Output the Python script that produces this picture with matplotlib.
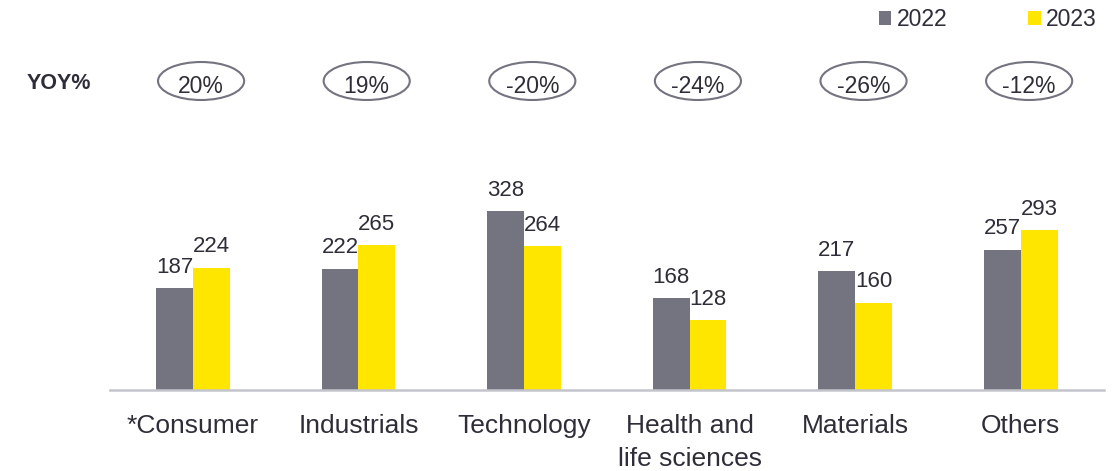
import matplotlib
matplotlib.use("Agg")
import matplotlib.pyplot as plt
from matplotlib.patches import Ellipse, Patch
from matplotlib.transforms import blended_transform_factory
import numpy as np

categories = ["*Consumer", "Industrials", "Technology", "Health and\nlife sciences", "Materials", "Others"]
values_2022 = [187, 222, 328, 168, 217, 257]
values_2023 = [224, 265, 264, 128, 160, 293]
yoy_labels = ["20%", "19%", "-20%", "-24%", "-26%", "-12%"]
series_names = ["2022", "2023"]

GRAY = "#747480"
YELLOW = "#FFE600"
TEXT = "#2E2E38"
AXIS = "#C4C4CD"

plt.rcParams['font.family'] = ['Liberation Sans', 'DejaVu Sans']

fig = plt.figure(figsize=(11.19, 4.71), dpi=100)
ax = fig.add_axes([0.0983, 0.172, 0.888, 0.5217])

x = np.arange(len(categories))
w = 0.222
ax.bar(x - w / 2, values_2022, w, color=GRAY, label=series_names[0], zorder=2)
ax.bar(x + w / 2, values_2023, w, color=YELLOW, label=series_names[1], zorder=2)

for xi, v in zip(x - w / 2, values_2022):
    ax.annotate(str(v), (xi, v), xytext=(0, 11), textcoords="offset points",
                ha="center", va="baseline", fontsize=16, color=TEXT)
for xi, v in zip(x + w / 2, values_2023):
    ax.annotate(str(v), (xi, v), xytext=(0, 11), textcoords="offset points",
                ha="center", va="baseline", fontsize=16, color=TEXT)

ax.set_xlim(-0.5, len(categories) - 0.5)
ax.set_ylim(0, 450)
ax.set_xticks(x)
ax.set_xticklabels(categories, fontsize=19, color=TEXT, linespacing=1.5)
ax.tick_params(axis="x", length=0, pad=17)
ax.set_yticks([])
for s in ["top", "right", "left"]:
    ax.spines[s].set_visible(False)
ax.spines["bottom"].set_color(AXIS)
ax.spines["bottom"].set_linewidth(1.8)

# YOY ovals
trans = blended_transform_factory(ax.transData, fig.transFigure)
oval_y = 1 - 81 / 471
for xi, lab in zip(x, yoy_labels):
    e = Ellipse((xi + 0.05, oval_y), 0.52, 38 / 471, transform=trans,
                facecolor="none", edgecolor=GRAY, linewidth=1.5, clip_on=False)
    fig.add_artist(e)
    t = fig.text(0, 0, lab, transform=trans, fontsize=16.5, color=TEXT,
                 ha="center", va="center_baseline")
    t.set_position((xi + 0.05, oval_y - 0.006))

fig.text(27 / 1119, oval_y, "YOY%", fontsize=15.5, fontweight="bold", color=TEXT,
         ha="left", va="center_baseline")

handles = [Patch(facecolor=GRAY), Patch(facecolor=YELLOW)]
fig.legend(handles, series_names, loc="center right", bbox_to_anchor=(1097 / 1119, 1 - 20 / 471),
           ncol=2, frameon=False, fontsize=16.5, handlelength=0.55, handleheight=0.55,
           handletextpad=0.25, columnspacing=3.5, borderpad=0, borderaxespad=0,
           labelcolor=TEXT)

fig.savefig("out.png", dpi=100)
